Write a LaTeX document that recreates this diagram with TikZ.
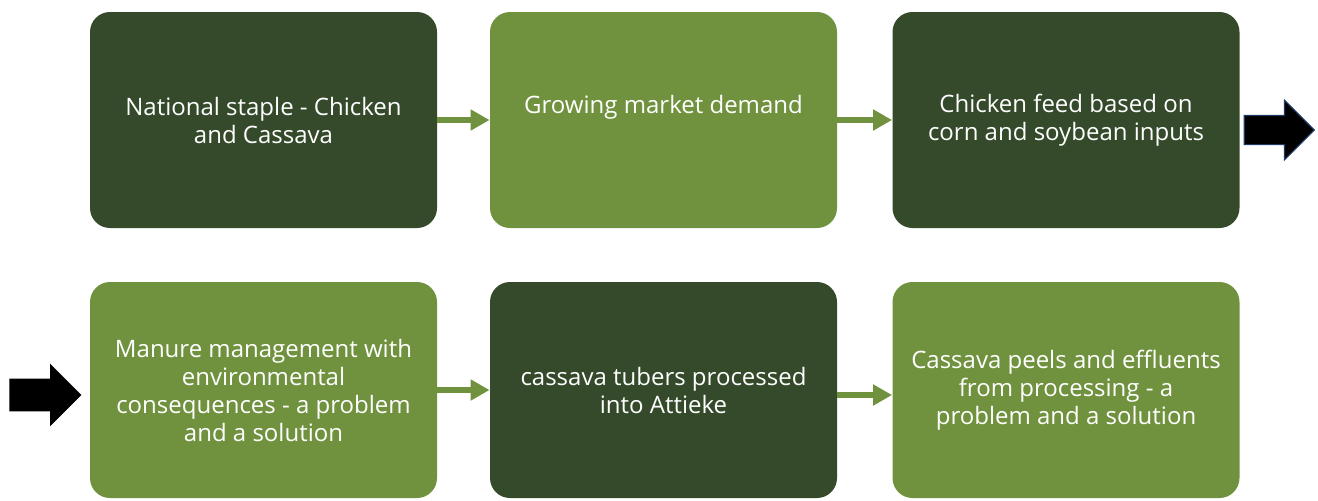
\documentclass[tikz,border=0pt]{standalone}
\usepackage{fontspec}
\setmainfont{Open Sans}
\usetikzlibrary{arrows.meta,shapes.arrows}
\definecolor{darkleaf}{HTML}{344A2B}
\definecolor{lightleaf}{HTML}{70923E}
\definecolor{arrowedge}{HTML}{1F3864}
\begin{document}
\begin{tikzpicture}[x=0.5pt,y=-0.5pt,
    card/.style={rounded corners=10pt,minimum width=173.5pt,minimum height=108pt,inner sep=0pt,
      text=white,align=center,font=\fontsize{12}{14}\selectfont},
    dark/.style={card,fill=darkleaf},
    light/.style={card,fill=lightleaf},
    link/.style={draw=lightleaf,line width=3pt,-{Triangle[length=9.5pt,width=10pt]}},
    bigarrow/.style={single arrow,fill=black,inner xsep=0pt,single arrow head extend=7.5pt,anchor=tip}]
    \useasboundingbox (0,0) rectangle (1318,500);
    % top row
    \node[dark] (staple) at (263.5,120) {National staple - Chicken\\and Cassava};
    \node[light] (demand) at (663.5,120) {};
    \node[text=white,font=\fontsize{12}{14}\selectfont] (demandtext) at ([yshift=6.5pt]demand.center) {Growing market demand};
    \node[dark] (feed) at (1066,120) {Chicken feed based on\\corn and soybean inputs};
    % bottom row
    \node[light] (manure) at (263.5,390) {Manure management with\\environmental\\consequences - a problem\\and a solution};
    \node[dark] (tubers) at (663.5,390) {cassava tubers processed\\into Attieke};
    \node[light] (peels) at (1066,390) {Cassava peels and effluents\\from processing - a\\problem and a solution};
    \draw[link] (staple) -- (demand);
    \draw[link] (demand) -- (feed);
    \draw[link] (manure) -- (tubers);
    \draw[link] ([yshift=-2.5pt]tubers.east) -- ([yshift=-2.5pt]peels.west);
    % row change
    \node[bigarrow,draw=arrowedge,line width=0.6pt,inner ysep=7pt,minimum height=35pt] (onward) at (1315,130) {};
    \node[bigarrow,inner ysep=8pt,minimum height=36pt] (back) at (82,395) {};
\end{tikzpicture}
\end{document}
